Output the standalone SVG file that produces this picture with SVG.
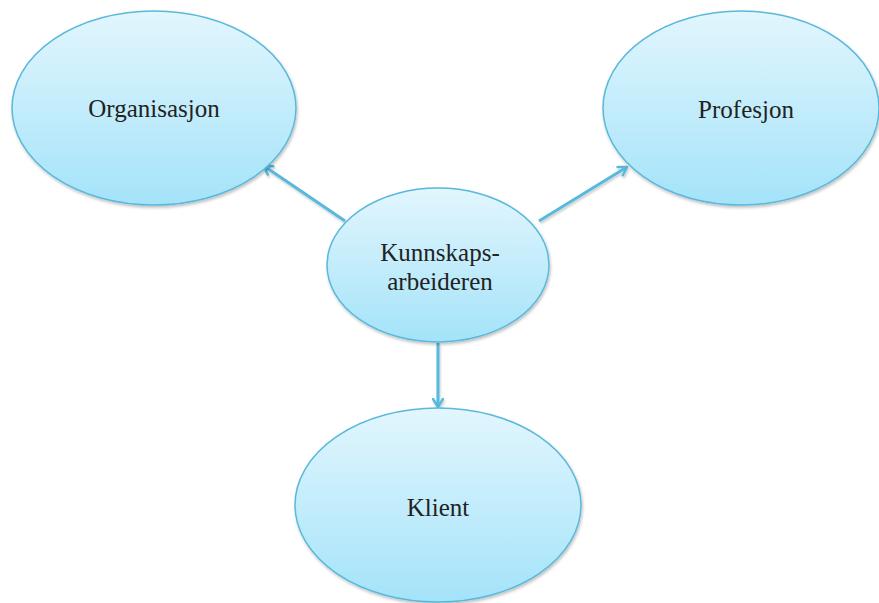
<svg xmlns="http://www.w3.org/2000/svg" width="879" height="603" viewBox="0 0 879 603">
<defs>
<linearGradient id="fill" x1="0" y1="0" x2="0" y2="1">
<stop offset="0" stop-color="#e2f6fd"/>
<stop offset="1" stop-color="#a4e3f9"/>
</linearGradient>
<filter id="sh" x="-10%" y="-10%" width="125%" height="125%">
<feDropShadow dx="1" dy="2" stdDeviation="1.5" flood-color="#000" flood-opacity="0.25"/>
</filter>
<filter id="lsh" filterUnits="userSpaceOnUse" x="0" y="0" width="879" height="603">
<feDropShadow dx="1" dy="2" stdDeviation="1" flood-color="#000" flood-opacity="0.2"/>
</filter>
<marker id="ah" viewBox="0 0 12 12" refX="10" refY="6" markerWidth="12" markerHeight="12" markerUnits="userSpaceOnUse" orient="auto">
<path d="M2,1 L10,6 L2,11" fill="none" stroke="#58b9dd" stroke-width="2.5" stroke-linecap="round" stroke-linejoin="round"/>
</marker>
</defs>
<style>
.node ellipse{fill:url(#fill);stroke:#5ab8dc;stroke-width:1.5;filter:url(#sh)}
.node text{font-family:"Liberation Serif","Times New Roman",serif;font-size:25px;fill:#222;text-anchor:middle}
.conn line{stroke:#58b9dd;stroke-width:3;marker-end:url(#ah);filter:url(#lsh)}
</style>
<rect width="879" height="603" fill="#fff"/>
<g class="conn">
<line x1="345" y1="221" x2="264" y2="166"/>
<line x1="539" y1="221" x2="627" y2="167"/>
<line x1="438" y1="343" x2="438" y2="407"/>
</g>
<g id="organisasjon" class="node">
<ellipse cx="154" cy="108" rx="142" ry="97"/>
<text x="154" y="117">Organisasjon</text>
</g>
<g id="profesjon" class="node">
<ellipse cx="741" cy="108" rx="138" ry="97"/>
<text x="746" y="118">Profesjon</text>
</g>
<g id="kunnskapsarbeideren" class="node">
<ellipse cx="438" cy="265" rx="111" ry="77"/>
<text x="440" y="261">Kunnskaps-</text>
<text x="440" y="290">arbeideren</text>
</g>
<g id="klient" class="node">
<ellipse cx="438" cy="505" rx="143" ry="97"/>
<text x="438" y="516">Klient</text>
</g>
</svg>
